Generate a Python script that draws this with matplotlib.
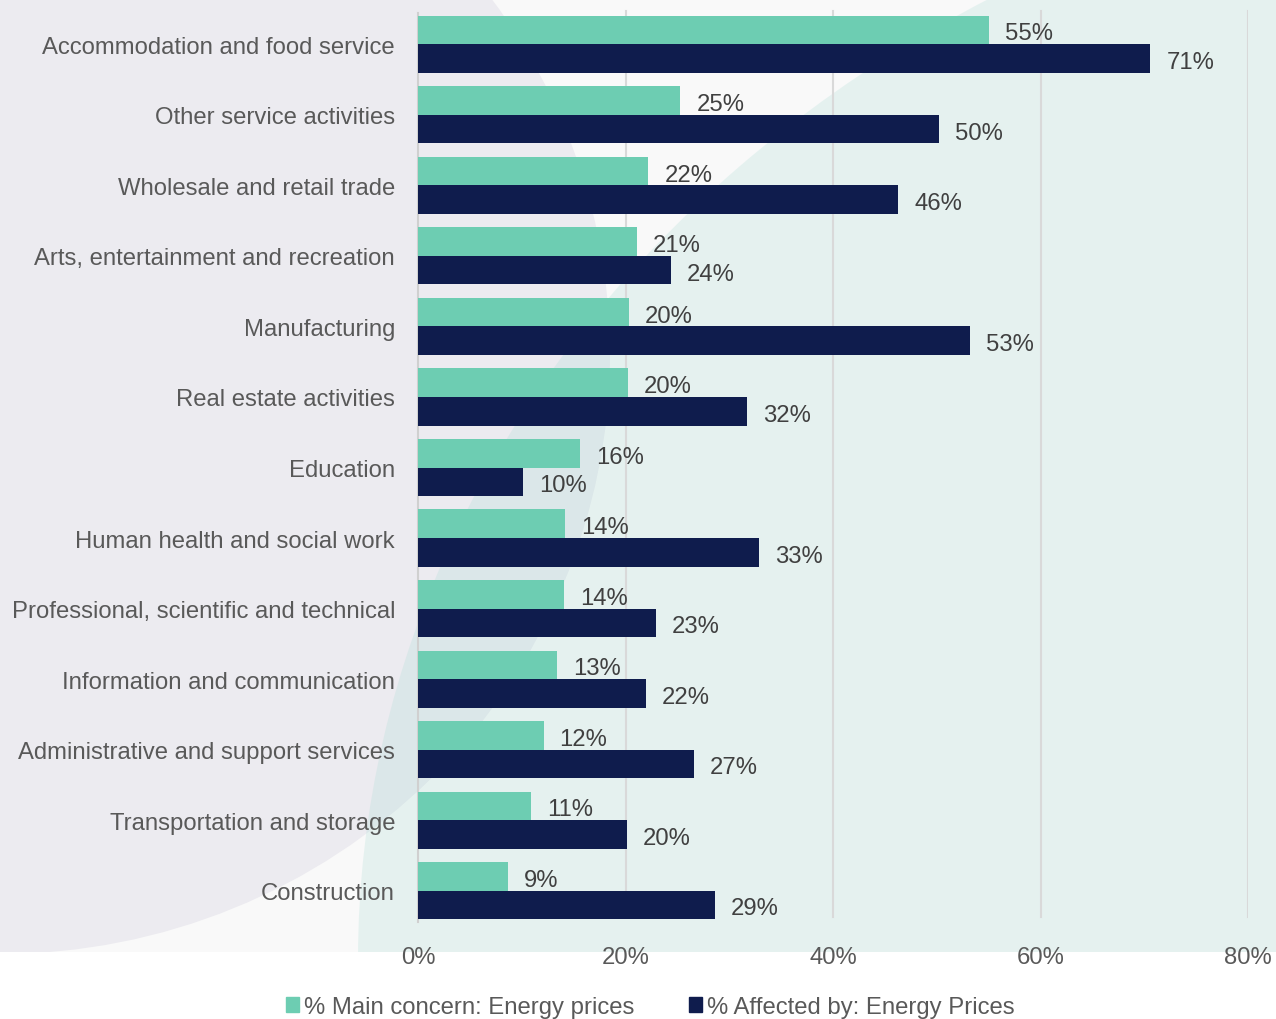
"""Energy prices by sector: main concern vs affected, horizontal grouped bars."""

import matplotlib

matplotlib.use("Agg")
import matplotlib.patches as mpatches  # noqa: E402
import matplotlib.pyplot as plt  # noqa: E402
import numpy as np  # noqa: E402

SECTORS = [
    "Accommodation and food service",
    "Other service activities",
    "Wholesale and retail trade",
    "Arts, entertainment and recreation",
    "Manufacturing",
    "Real estate activities",
    "Education",
    "Human health and social work",
    "Professional, scientific and technical",
    "Information and communication",
    "Administrative and support services",
    "Transportation and storage",
    "Construction",
]
MAIN_CONCERN = [55.0, 25.3, 22.2, 21.1, 20.3, 20.2, 15.6, 14.2, 14.1, 13.4, 12.1, 10.9, 8.7]
AFFECTED = [70.6, 50.2, 46.3, 24.4, 53.2, 31.7, 10.1, 32.9, 22.9, 22.0, 26.6, 20.1, 28.6]
SERIES_LABELS = ["% Main concern: Energy prices", "% Affected by: Energy Prices"]
X_TICKS = [0, 20, 40, 60, 80]

TEAL = "#6DCDB2"
NAVY = "#0F1C4D"
LABEL_GREY = "#595959"
VALUE_GREY = "#404040"

plt.rcParams["font.family"] = ["Liberation Sans", "DejaVu Sans"]
FS = 17.2

fig = plt.figure(figsize=(12.76, 10.2), dpi=100)
fig.patch.set_facecolor("white")

# decorative background, pixel coordinates
bg = fig.add_axes([0, 0, 1, 1], zorder=0)
bg.set_xlim(0, 1276)
bg.set_ylim(1020, 0)
bg.axis("off")
panel = mpatches.Rectangle((0, 0), 1276, 953, facecolor="#F9F9F9", edgecolor="none")
bg.add_patch(panel)
lavender = mpatches.Ellipse((0, 355), 2 * 610, 2 * 600, facecolor="#ECEBF0", edgecolor="none")
bg.add_patch(lavender)
lavender.set_clip_path(panel)
mint = mpatches.Ellipse((1658, 960), 2 * 1300, 2 * 1120,
                        facecolor=(166 / 255, 218 / 255, 210 / 255), alpha=0.23, edgecolor="none")
bg.add_patch(mint)
mint.set_clip_path(panel)

ax = fig.add_axes([418 / 1276, 1 - 927 / 1020, (1248 - 418) / 1276, (927 - 10) / 1020], zorder=1)
ax.set_facecolor("none")

y = np.arange(len(SECTORS))
h = 0.405
bars1 = ax.barh(y - h / 2, MAIN_CONCERN, height=h, color=TEAL, label=SERIES_LABELS[0], zorder=3)
bars2 = ax.barh(y + h / 2, AFFECTED, height=h, color=NAVY, label=SERIES_LABELS[1], zorder=3)

for bars, vals in ((bars1, MAIN_CONCERN), (bars2, AFFECTED)):
    for b, v in zip(bars, vals):
        ax.annotate(f"{v:.0f}%", (b.get_width(), b.get_y() + b.get_height() / 2),
                    xytext=(11.5, -2.5), textcoords="offset points", va="center", ha="left",
                    fontsize=FS, color=VALUE_GREY, zorder=4)

ax.set_xlim(0, 80)
ax.set_ylim(len(SECTORS) - 0.5, -0.5)
ax.set_xticks(X_TICKS)
ax.set_xticklabels([f"{t}%" for t in X_TICKS])
ax.set_yticks(y)
ax.set_yticklabels(SECTORS)
ax.tick_params(axis="y", length=0, pad=16.5, labelsize=FS, labelcolor=LABEL_GREY)
ax.tick_params(axis="x", length=0, pad=14.5, labelsize=FS, labelcolor=LABEL_GREY)

for t in X_TICKS[1:]:
    ax.axvline(t, ymin=0.01, ymax=0.998, color="#D9D9D9", lw=1.5, zorder=1)
for side in ("top", "right", "bottom"):
    ax.spines[side].set_visible(False)
ax.spines["left"].set_color("#D0D0D0")
ax.spines["left"].set_linewidth(1.5)
ax.spines["left"].set_bounds(len(SECTORS) - 0.55, -0.45)

fig.legend(
    handles=[mpatches.Patch(color=TEAL, label=SERIES_LABELS[0]),
             mpatches.Patch(color=NAVY, label=SERIES_LABELS[1])],
    loc="center",
    bbox_to_anchor=(650 / 1276, 1 - 1008 / 1020),
    ncol=2,
    fontsize=FS,
    frameon=False,
    handlelength=0.55,
    handleheight=0.55,
    handletextpad=0.2,
    columnspacing=2.3,
    labelcolor=LABEL_GREY,
)

fig.savefig("out.png", dpi=100)
